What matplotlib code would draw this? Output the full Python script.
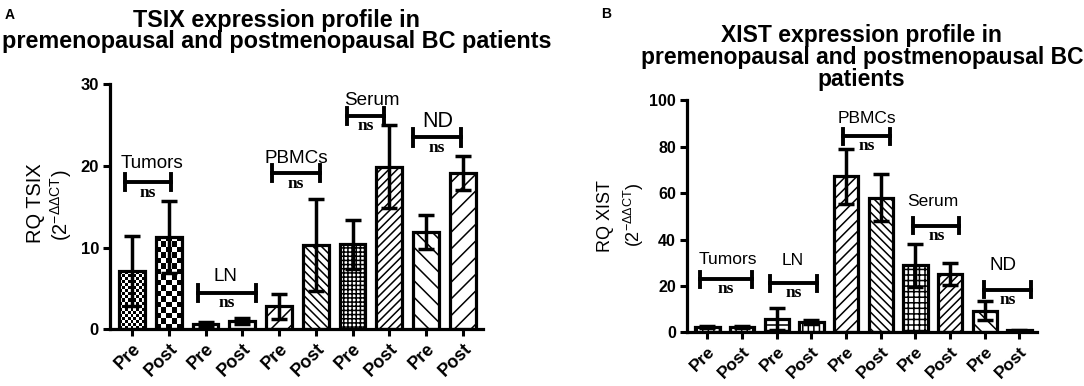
import numpy as np
import matplotlib.pyplot as plt

plt.rcParams['font.family'] = ['Liberation Sans', 'DejaVu Sans']
plt.rcParams['mathtext.fontset'] = 'custom'
plt.rcParams['mathtext.rm'] = 'Liberation Sans'
plt.rcParams['mathtext.it'] = 'Liberation Sans'
plt.rcParams['mathtext.bf'] = 'Liberation Sans:bold'
plt.rcParams['hatch.linewidth'] = 1.1

# data
tick_labels = ['Pre', 'Post'] * 5
groups = ['Tumors', 'LN', 'PBMCs', 'Serum', 'ND']

tsix_mean = [7.1, 11.3, 0.6, 1.0, 2.8, 10.3, 10.4, 19.9, 11.9, 19.1]
tsix_sem = [4.3, 4.4, 0.3, 0.4, 1.5, 5.6, 3.0, 5.1, 2.1, 2.1]
tsix_hatch = ['', '', '', '', '//', r'\\\\', '++++', '////', r'\\', '//']
tsix_checker = {0: 3.0, 1: 5.5}   # bar index -> checker cell size (px)
tsix_bracket_y = [18.0, 4.45, 19.1, 26.1, 23.5]
tsix_bracket_x = [(-0.19, 1.06), (1.80, 3.37), (3.80, 5.11), (5.84, 6.85), (7.64, 8.96)]
tsix_label_pos = [(0.53, 20.3), (2.55, 6.5), (4.47, 20.9), (6.53, 28.0), (8.32, 25.5)]

xist_mean = [2.3, 2.3, 5.7, 4.5, 67.3, 58.1, 28.9, 25.2, 9.4, 0.8]
xist_sem = [0.6, 0.6, 4.7, 0.8, 11.9, 10.3, 9.2, 4.8, 4.1, 0.3]
xist_hatch = ['|||', '|||', '---', '|||', '///', r'\\\\', '+++', '////', r'\\', '']
xist_bracket_y = [22.9, 21.2, 84.5, 45.9, 18.3]
xist_bracket_x = [(-0.21, 1.28), (1.81, 3.16), (3.92, 5.27), (5.94, 7.27), (7.98, 9.33)]
xist_label_pos = [(0.6, 31.2), (2.46, 30.8), (4.6, 92.0), (6.5, 56.6), (8.53, 29.0)]

title_a = ['TSIX expression profile in', 'premenopausal and postmenopausal BC patients']
title_b = ['XIST expression profile in', 'premenopausal and postmenopausal BC', 'patients']

fig = plt.figure(figsize=(10.84, 3.86), dpi=100)


def checker(ax, bar, cell_px):
    x0, w, h = bar.get_x(), bar.get_width(), bar.get_height()
    (px0, py0), (px1, py1) = ax.transData.transform([(x0, 0), (x0 + w, h)])
    nx = max(1, int(round((px1 - px0) / cell_px)))
    ny = max(1, int(round((py1 - py0) / cell_px)))
    board = np.indices((ny, nx)).sum(axis=0) % 2
    im = ax.imshow(board, cmap='gray', extent=(x0, x0 + w, 0, h), aspect='auto',
                   interpolation='nearest', zorder=2.1)
    im.set_clip_path(bar)


def panel(rect, mean, sem, hatches, checks, ymax, step, xlim, bx, by, lpos,
          label_fs, nd_fs, cap, ns_off, tick_fs):
    ax = fig.add_axes(rect)
    x = np.arange(len(mean))
    ax.set_xlim(*xlim)
    ax.set_ylim(0, ymax)
    bars = ax.bar(x, mean, width=0.7, color='white', edgecolor='black', linewidth=0,
                  hatch=hatches, zorder=2)
    for i, cell in checks.items():
        checker(ax, bars[i], cell)
    ax.bar(x, mean, width=0.7, fill=False, edgecolor='black', linewidth=2.3, zorder=2.2)
    ax.errorbar(x, mean, yerr=sem, fmt='none', ecolor='black', elinewidth=2.5,
                capsize=5.5, capthick=2.5, zorder=3)
    for i, g in enumerate(groups):
        x0, x1 = bx[i]
        y = by[i]
        ax.plot([x0, x1], [y, y], color='black', lw=2.8, zorder=4, clip_on=False)
        ax.plot([x0, x0], [y - cap, y + cap], color='black', lw=2.8, clip_on=False)
        ax.plot([x1, x1], [y - cap, y + cap], color='black', lw=2.8, clip_on=False)
        ax.text((x0 + x1) / 2, y - ns_off, 'ns', ha='center', va='center',
                family='Liberation Serif', fontweight='bold', fontsize=12.5)
        fs = nd_fs if g == 'ND' else label_fs
        ax.text(lpos[i][0], lpos[i][1], g, ha='center', va='center', fontsize=fs)
    ax.set_xlim(*xlim)
    ax.set_ylim(0, ymax)
    ax.set_yticks(np.arange(0, ymax + 1, step))
    ax.set_xticks(x)
    ax.set_xticklabels(tick_labels, rotation=45, ha='right', rotation_mode='anchor',
                       fontweight='bold', fontsize=tick_fs)
    for lab in ax.get_yticklabels():
        lab.set_fontweight('bold')
        lab.set_fontsize(tick_fs - 1)
    ax.spines['top'].set_visible(False)
    ax.spines['right'].set_visible(False)
    ax.spines['left'].set_linewidth(2.3)
    ax.spines['bottom'].set_linewidth(2.3)
    ax.tick_params(width=2.2, length=5, pad=3)
    return ax


ax1 = panel([0.1015, 0.1469, 0.3441, 0.6347], tsix_mean, tsix_sem, tsix_hatch,
            tsix_checker, 30, 10, (-0.6, 9.55), tsix_bracket_x, tsix_bracket_y,
            tsix_label_pos, 13.6, 15.5, 1.0, 1.25, 13)

ax2 = panel([0.6338, 0.1391, 0.3226, 0.601], xist_mean, xist_sem, xist_hatch,
            {}, 100, 20, (-0.59, 9.5), xist_bracket_x, xist_bracket_y,
            xist_label_pos, 12.5, 13.5, 3.2, 4.2, 12.5)

# y labels
fig.text(0.0332, 0.474, 'RQ TSIX', rotation=90, ha='center', va='center', fontsize=14.4)
fig.text(0.0563, 0.469, '(2$^{-\\Delta\\Delta CT}$)', rotation=90, ha='center',
         va='center', fontsize=14.4)
fig.text(0.559, 0.440, 'RQ XIST', rotation=90, ha='center', va='center', fontsize=13)
fig.text(0.585, 0.443, '(2$^{-\\Delta\\Delta CT}$)', rotation=90, ha='center',
         va='center', fontsize=13)

# titles, one text per line
for line, yb in zip(title_a, [0.930, 0.875]):
    fig.text(0.2555, yb, line, ha='center', va='baseline', fontweight='bold', fontsize=16.8)
for line, yb in zip(title_b, [0.891, 0.834, 0.777]):
    fig.text(0.795, yb, line, ha='center', va='baseline', fontweight='bold', fontsize=16.5)

fig.text(0.004, 0.978, 'A', fontweight='bold', fontsize=10, va='top')
fig.text(0.555, 0.982, 'B', fontweight='bold', fontsize=10, va='top')

fig.savefig('out.png', dpi=100)
